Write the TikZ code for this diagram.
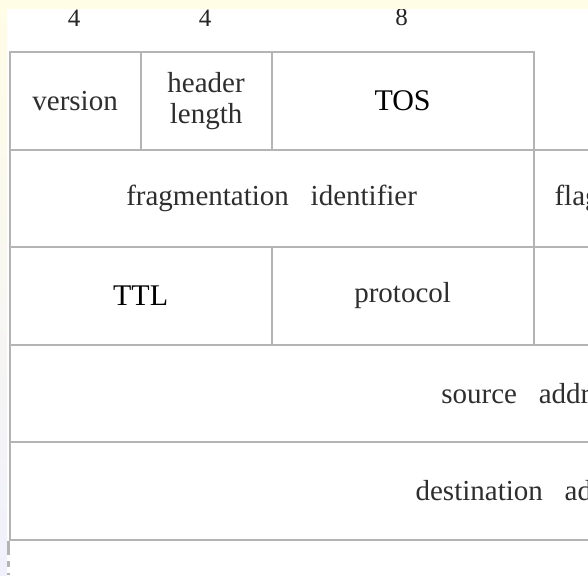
\documentclass[tikz,border=0pt]{standalone}
\usepackage{fontspec}
\setmainfont{Liberation Serif}[WordSpace=3]
\usepackage{tikz}
\usetikzlibrary{positioning}
\definecolor{rulegray}{HTML}{B4B4B4}
\definecolor{paleyellow}{HTML}{FFFDE6}
\definecolor{palelilac}{HTML}{F0F0FC}
\tikzset{
  field/.style={draw=rulegray, line width=2.2pt, rectangle, anchor=north west,
    inner sep=0pt, minimum height=97.5pt, align=center, text=black!82,
    font=\fontsize{29}{31}\selectfont},
  big field/.style={field, text=black, font=\fontsize{30}{31}\selectfont},
  bits/.style={font=\fontsize{25}{27}\selectfont, inner sep=0pt, text=black!85}
}
\begin{document}
\begin{tikzpicture}[x=1pt, y=-1pt]
        \useasboundingbox (0,0) rectangle (588,575);
        \clip (0,0) rectangle (588,575);
        \fill[white] (0,0) rectangle (588,575);
        % Margin strips
        \shade[top color=paleyellow, bottom color=palelilac] (0,0) rectangle (7,575);

        % Bit widths
        \node[bits] (b1) at (74,18) {4};
        \node[bits] (b2) at (205,18) {4};
        \node[bits] (b3) at (401.5,17) {8};

        % Fields
        \node[field, minimum width=131pt] (ver) at (8.5,51) {version};
        \node[field, minimum width=131pt] (hlen) at (139.5,51) {header\\length};
        \node[big field, minimum width=262pt] (tos) at (270.5,51) {TOS};
        \node[field, minimum width=524pt] (frag) at (8.5,148.5) {fragmentation identifier};
        \node[field, minimum width=98.25pt] (flags) at (532.5,148.5) {flags};
        \node[big field, minimum width=262pt] (ttl) at (8.5,246) {TTL};
        \node[field, minimum width=262pt] (proto) at (270.5,246) {protocol};
        \node[field, minimum width=1048pt] (src) at (8.5,343.5) {source address};
        \node[field, minimum width=1048pt] (dst) at (8.5,441) {destination address};

        % Options row, cut off
        \coordinate (opt) at (8.5,552);
        \coordinate (optend) at (8.5,575);
        \draw[rulegray, line width=2.2pt] (dst.south west) -- (opt);
        \draw[rulegray, line width=2.2pt, dash pattern=on 6pt off 6pt] ([yshift=3pt]opt) -- (optend);

        \fill[paleyellow] (0,0) rectangle (588,9);
    \end{tikzpicture}
\end{document}
